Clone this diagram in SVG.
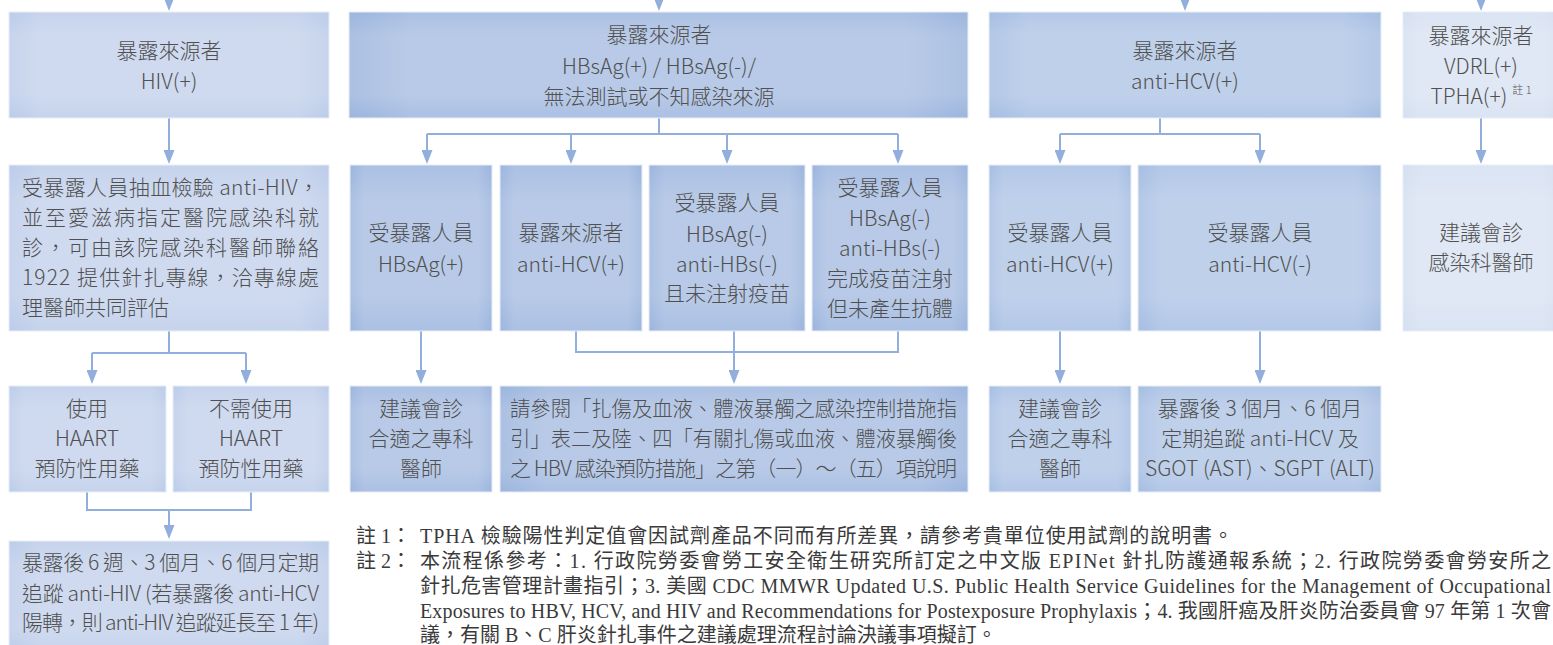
<svg xmlns="http://www.w3.org/2000/svg" width="1553" height="645" viewBox="0 0 1553 645">
<style>
.bx{stroke:#e6edf7;stroke-width:1}
.c1 .bx{fill:#bccce9}
.c2 .bx{fill:#9cb5de}
.c3 .bx{fill:#a6bee3}
.c4 .bx{fill:#d4dff1}
.ov1{fill:url(#gv)}
.ov2{fill:url(#gh)}
.t{font-family:"Noto Sans CJK TC","Noto Sans",sans-serif;font-size:21px;font-weight:300;fill:#505050;text-anchor:middle}
.l{text-anchor:start}
.sup{font-size:11px}
.ln{fill:none;stroke:#91aedc;stroke-width:2}
.ar{fill:none;stroke:#91aedc;stroke-width:2;marker-end:url(#ah)}
.note{font-family:"Liberation Serif","Noto Sans CJK TC",serif;font-size:20px;fill:#3a3a3a}
</style>
<defs>
<linearGradient id="gv" x1="0" y1="0" x2="0" y2="1">
<stop offset="0" stop-color="#fff" stop-opacity="0"/>
<stop offset="0.22" stop-color="#fff" stop-opacity="0.16"/>
<stop offset="0.78" stop-color="#fff" stop-opacity="0.16"/>
<stop offset="1" stop-color="#fff" stop-opacity="0"/>
</linearGradient>
<linearGradient id="gh" x1="0" y1="0" x2="1" y2="0">
<stop offset="0" stop-color="#fff" stop-opacity="0"/>
<stop offset="0.1" stop-color="#fff" stop-opacity="0.15"/>
<stop offset="0.9" stop-color="#fff" stop-opacity="0.15"/>
<stop offset="1" stop-color="#fff" stop-opacity="0"/>
</linearGradient>
<marker id="ah" viewBox="0 0 14 11" refX="8" refY="5.5" markerWidth="14" markerHeight="11" markerUnits="userSpaceOnUse" orient="auto">
<path d="M0,0 L14,5.5 L0,11 z" fill="#91aedc"/>
</marker>
</defs>
<rect width="1553" height="645" fill="#fff"/>

<g id="connectors">
<path class="ln" d="M169,331 V353 M92,353 H246"/>
<path class="ln" d="M87,492 V510 H251 V492"/>
<path class="ln" d="M659,118 V134 M427,134 H898"/>
<path class="ln" d="M576,331 V352 H898 V331"/>
<path class="ln" d="M1160,118 V134 M1060,134 H1260"/>
<path class="ar" d="M169,-10 V5"/>
<path class="ar" d="M659,-10 V5"/>
<path class="ar" d="M1185,-10 V5"/>
<path class="ar" d="M1481,-10 V5"/>
<path class="ar" d="M169,118 V158"/>
<path class="ar" d="M92,353 V378"/>
<path class="ar" d="M246,353 V378"/>
<path class="ar" d="M169,510 V533"/>
<path class="ar" d="M427,134 V158"/>
<path class="ar" d="M571,134 V158"/>
<path class="ar" d="M727,134 V158"/>
<path class="ar" d="M898,134 V158"/>
<path class="ar" d="M421,331 V378"/>
<path class="ar" d="M734,331 V378"/>
<path class="ar" d="M1060,134 V158"/>
<path class="ar" d="M1260,134 V158"/>
<path class="ar" d="M1060,331 V378"/>
<path class="ar" d="M1260,331 V378"/>
<path class="ar" d="M1481,118 V158"/>
</g>

<g id="n-src-hiv" class="c1">
<rect class="bx" x="9" y="12" width="320" height="106"/><rect class="ov1" x="9" y="12" width="320" height="106"/><rect class="ov2" x="9" y="12" width="320" height="106"/>
<text class="t" x="169" y="58">暴露來源者</text>
<text class="t" x="169" y="89">HIV(+)</text>
</g>
<g id="n-src-hbv" class="c2">
<rect class="bx" x="349" y="12" width="619" height="106"/><rect class="ov1" x="349" y="12" width="619" height="106"/><rect class="ov2" x="349" y="12" width="619" height="106"/>
<text class="t" x="659" y="42">暴露來源者</text>
<text class="t" x="659" y="74">HBsAg(+) / HBsAg(-)/</text>
<text class="t" x="659" y="104">無法測試或不知感染來源</text>
</g>
<g id="n-src-hcv" class="c3">
<rect class="bx" x="989" y="12" width="392" height="106"/><rect class="ov1" x="989" y="12" width="392" height="106"/><rect class="ov2" x="989" y="12" width="392" height="106"/>
<text class="t" x="1185" y="58">暴露來源者</text>
<text class="t" x="1185" y="89">anti-HCV(+)</text>
</g>
<g id="n-src-vdrl" class="c4">
<rect class="bx" x="1403" y="12" width="156" height="106"/><rect class="ov1" x="1403" y="12" width="156" height="106"/><rect class="ov2" x="1403" y="12" width="156" height="106"/>
<text class="t" x="1481" y="43">暴露來源者</text>
<text class="t" x="1481" y="74">VDRL(+)</text>
<text class="t" x="1481" y="104">TPHA(+)<tspan class="sup" dx="5" dy="-10">註 1</tspan></text>
</g>

<g id="n-hiv-test" class="c1">
<rect class="bx" x="9" y="165" width="320" height="166"/><rect class="ov1" x="9" y="165" width="320" height="166"/><rect class="ov2" x="9" y="165" width="320" height="166"/>
<text class="t l" x="22" y="195" textLength="297" lengthAdjust="spacing">受暴露人員抽血檢驗 anti-HIV，</text>
<text class="t l" x="22" y="225" textLength="297" lengthAdjust="spacing">並至愛滋病指定醫院感染科就</text>
<text class="t l" x="22" y="255" textLength="297" lengthAdjust="spacing">診，可由該院感染科醫師聯絡</text>
<text class="t l" x="22" y="285" textLength="297" lengthAdjust="spacing">1922 提供針扎專線，洽專線處</text>
<text class="t l" x="22" y="315">理醫師共同評估</text>
</g>
<g id="n-hbsag-pos" class="c2">
<rect class="bx" x="350" y="165" width="142" height="166"/><rect class="ov1" x="350" y="165" width="142" height="166"/><rect class="ov2" x="350" y="165" width="142" height="166"/>
<text class="t" x="421" y="240">受暴露人員</text>
<text class="t" x="421" y="272">HBsAg(+)</text>
</g>
<g id="n-src-hcvpos" class="c2">
<rect class="bx" x="500" y="165" width="142" height="166"/><rect class="ov1" x="500" y="165" width="142" height="166"/><rect class="ov2" x="500" y="165" width="142" height="166"/>
<text class="t" x="571" y="240">暴露來源者</text>
<text class="t" x="571" y="272">anti-HCV(+)</text>
</g>
<g id="n-hbs-novac" class="c2">
<rect class="bx" x="649" y="165" width="156" height="166"/><rect class="ov1" x="649" y="165" width="156" height="166"/><rect class="ov2" x="649" y="165" width="156" height="166"/>
<text class="t" x="727" y="210">受暴露人員</text>
<text class="t" x="727" y="242">HBsAg(-)</text>
<text class="t" x="727" y="272">anti-HBs(-)</text>
<text class="t" x="727" y="301">且未注射疫苗</text>
</g>
<g id="n-hbs-vacfail" class="c2">
<rect class="bx" x="812" y="165" width="156" height="166"/><rect class="ov1" x="812" y="165" width="156" height="166"/><rect class="ov2" x="812" y="165" width="156" height="166"/>
<text class="t" x="890" y="195">受暴露人員</text>
<text class="t" x="890" y="226">HBsAg(-)</text>
<text class="t" x="890" y="256">anti-HBs(-)</text>
<text class="t" x="890" y="286">完成疫苗注射</text>
<text class="t" x="890" y="316">但未產生抗體</text>
</g>
<g id="n-hcv-pos" class="c3">
<rect class="bx" x="989" y="165" width="142" height="166"/><rect class="ov1" x="989" y="165" width="142" height="166"/><rect class="ov2" x="989" y="165" width="142" height="166"/>
<text class="t" x="1060" y="240">受暴露人員</text>
<text class="t" x="1060" y="272">anti-HCV(+)</text>
</g>
<g id="n-hcv-neg" class="c3">
<rect class="bx" x="1138" y="165" width="243" height="166"/><rect class="ov1" x="1138" y="165" width="243" height="166"/><rect class="ov2" x="1138" y="165" width="243" height="166"/>
<text class="t" x="1260" y="240">受暴露人員</text>
<text class="t" x="1260" y="272">anti-HCV(-)</text>
</g>
<g id="n-vdrl-consult" class="c4">
<rect class="bx" x="1403" y="165" width="156" height="166"/><rect class="ov1" x="1403" y="165" width="156" height="166"/><rect class="ov2" x="1403" y="165" width="156" height="166"/>
<text class="t" x="1481" y="240">建議會診</text>
<text class="t" x="1481" y="270">感染科醫師</text>
</g>

<g id="n-haart-yes" class="c1">
<rect class="bx" x="9" y="386" width="157" height="106"/><rect class="ov1" x="9" y="386" width="157" height="106"/><rect class="ov2" x="9" y="386" width="157" height="106"/>
<text class="t" x="87" y="416">使用</text>
<text class="t" x="87" y="446">HAART</text>
<text class="t" x="87" y="476">預防性用藥</text>
</g>
<g id="n-haart-no" class="c1">
<rect class="bx" x="173" y="386" width="156" height="106"/><rect class="ov1" x="173" y="386" width="156" height="106"/><rect class="ov2" x="173" y="386" width="156" height="106"/>
<text class="t" x="251" y="416">不需使用</text>
<text class="t" x="251" y="446">HAART</text>
<text class="t" x="251" y="476">預防性用藥</text>
</g>
<g id="n-hbv-consult" class="c2">
<rect class="bx" x="350" y="386" width="142" height="106"/><rect class="ov1" x="350" y="386" width="142" height="106"/><rect class="ov2" x="350" y="386" width="142" height="106"/>
<text class="t" x="421" y="416">建議會診</text>
<text class="t" x="421" y="446">合適之專科</text>
<text class="t" x="421" y="476">醫師</text>
</g>
<g id="n-hbv-ref" class="c2">
<rect class="bx" x="500" y="386" width="468" height="106"/><rect class="ov1" x="500" y="386" width="468" height="106"/><rect class="ov2" x="500" y="386" width="468" height="106"/>
<text class="t l" x="510" y="416" textLength="447" lengthAdjust="spacingAndGlyphs">請參閱「扎傷及血液、體液暴觸之感染控制措施指</text>
<text class="t l" x="510" y="446" textLength="447" lengthAdjust="spacingAndGlyphs">引」表二及陸、四「有關扎傷或血液、體液暴觸後</text>
<text class="t l" x="510" y="476" textLength="447" lengthAdjust="spacing">之 HBV 感染預防措施」之第（一）～（五）項說明</text>
</g>
<g id="n-hcv-consult" class="c3">
<rect class="bx" x="989" y="386" width="142" height="106"/><rect class="ov1" x="989" y="386" width="142" height="106"/><rect class="ov2" x="989" y="386" width="142" height="106"/>
<text class="t" x="1060" y="416">建議會診</text>
<text class="t" x="1060" y="446">合適之專科</text>
<text class="t" x="1060" y="476">醫師</text>
</g>
<g id="n-hcv-follow" class="c3">
<rect class="bx" x="1138" y="386" width="243" height="106"/><rect class="ov1" x="1138" y="386" width="243" height="106"/><rect class="ov2" x="1138" y="386" width="243" height="106"/>
<text class="t" x="1260" y="416">暴露後 3 個月、6 個月</text>
<text class="t" x="1260" y="446">定期追蹤 anti-HCV 及</text>
<text class="t" x="1260" y="476">SGOT (AST)、SGPT (ALT)</text>
</g>

<g id="n-hiv-follow" class="c1">
<rect class="bx" x="9" y="541" width="320" height="112"/><rect class="ov1" x="9" y="541" width="320" height="112"/><rect class="ov2" x="9" y="541" width="320" height="112"/>
<text class="t l" x="22" y="570" textLength="297" lengthAdjust="spacing">暴露後 6 週、3 個月、6 個月定期</text>
<text class="t l" x="22" y="601" textLength="297" lengthAdjust="spacing">追蹤 anti-HIV (若暴露後 anti-HCV</text>
<text class="t l" x="22" y="630" textLength="297" lengthAdjust="spacing">陽轉，則 anti-HIV 追蹤延長至 1 年)</text>
</g>

<g id="notes">
<text class="note" x="356" y="543">註 1：</text>
<text class="note" x="420" y="543" textLength="813" lengthAdjust="spacing">TPHA 檢驗陽性判定值會因試劑產品不同而有所差異，請參考貴單位使用試劑的說明書。</text>
<text class="note" x="356" y="568">註 2：</text>
<text class="note" x="420" y="568" textLength="1131" lengthAdjust="spacing">本流程係參考：1. 行政院勞委會勞工安全衛生研究所訂定之中文版 EPINet 針扎防護通報系統；2. 行政院勞委會勞安所之</text>
<text class="note" x="420" y="593" textLength="1131" lengthAdjust="spacing">針扎危害管理計畫指引；3. 美國 CDC MMWR Updated U.S. Public Health Service Guidelines for the Management of Occupational</text>
<text class="note" x="420" y="618" textLength="1131" lengthAdjust="spacing">Exposures to HBV, HCV, and HIV and Recommendations for Postexposure Prophylaxis；4. 我國肝癌及肝炎防治委員會 97 年第 1 次會</text>
<text class="note" x="420" y="642">議，有關 B、C 肝炎針扎事件之建議處理流程討論決議事項擬訂。</text>
</g>
</svg>
